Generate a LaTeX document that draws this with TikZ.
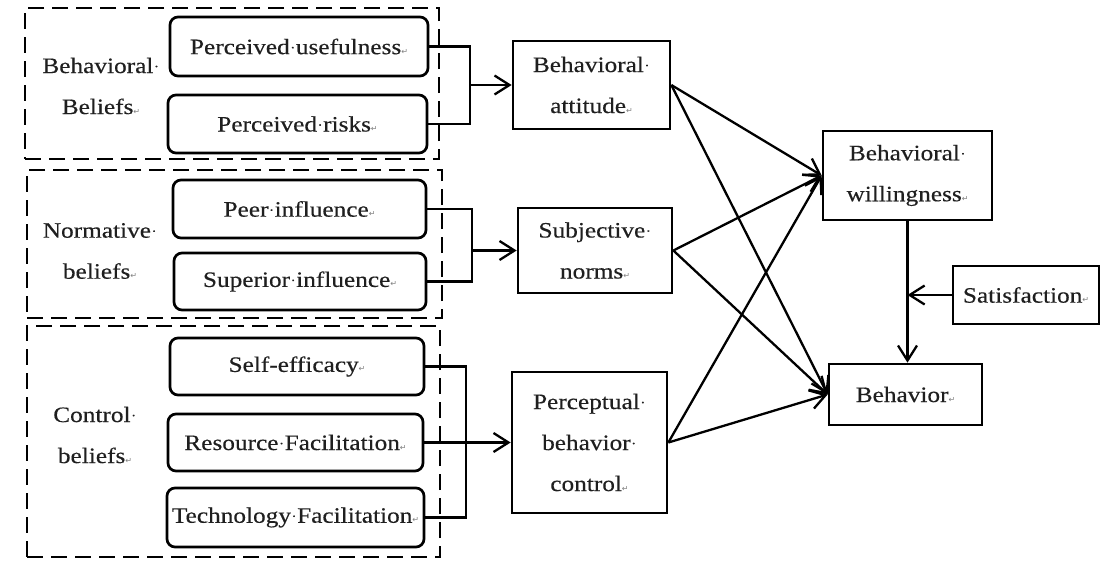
\documentclass[tikz,border=0pt]{standalone}
\usepackage{fontspec}
\setmainfont{Liberation Serif}[FakeStretch=1.15,FakeBold=0.35]
\newfontfamily\symf{DejaVu Sans}
\usetikzlibrary{arrows.meta}
\newcommand\wsp{\makebox[0.28em]{\raisebox{0.1em}{\fontsize{13}{13}\selectfont ·}}}
\newcommand\rmk{{\color{gray}\symf\fontsize{8}{8}\selectfont ↵}}
\begin{document}
\begin{tikzpicture}[x=1pt,y=-1pt,
  txt/.style={font=\fontsize{22}{41}\selectfont, align=center, text=black!88},
  rbox/.style={txt, draw, line width=2.7pt, rounded corners=8pt, inner sep=0pt},
  sbox/.style={txt, draw, line width=2.7pt, inner sep=0pt},
  grp/.style={draw, line width=2.7pt, dash pattern=on 16pt off 8pt, inner sep=0pt},
  lbl/.style={txt, inner sep=0pt},
  conn/.style={line width=2.3pt},
  arr/.style={line width=2.3pt, -{Straight Barb[length=15pt,width=19pt]}}]
\useasboundingbox (0,0) rectangle (1101,560);
% groups
\node[grp, minimum width=414pt, minimum height=151pt] (g1) at (232,83.5) {};
\node[grp, minimum width=415pt, minimum height=148pt] (g2) at (234.5,244) {};
\node[grp, minimum width=413pt, minimum height=231pt] (g3) at (233.5,441.5) {};
\node[lbl] (l1) at (101,86) {Behavioral\wsp\\Beliefs\rmk};
\node[lbl] (l2) at (100,251) {Normative\wsp\\beliefs\rmk};
\node[lbl] (l3) at (95,435) {Control\wsp\\beliefs\rmk};
% belief boxes
\node[rbox, minimum width=258pt, minimum height=59pt] (pu) at (299,46.5) {Perceived\wsp usefulness\rmk};
\node[rbox, minimum width=259pt, minimum height=58pt] (pr) at (297.5,124) {Perceived\wsp risks\rmk};
\node[rbox, minimum width=253pt, minimum height=58pt] (pi) at (299.5,209) {Peer\wsp influence\rmk};
\node[rbox, minimum width=252pt, minimum height=57pt] (si) at (300,281.5) {Superior\wsp influence\rmk};
\node[rbox, minimum width=254pt, minimum height=57pt] (se) at (297,366.5) {Self-efficacy\rmk};
\node[rbox, minimum width=255pt, minimum height=57pt] (rf) at (295.5,442.5) {Resource\wsp Facilitation\rmk};
\node[rbox, minimum width=257pt, minimum height=59pt] (tf) at (295.5,517.5) {Technology\wsp Facilitation\rmk};
% construct boxes
\node[sbox, minimum width=157pt, minimum height=88pt] (ba) at (591.5,85) {Behavioral\wsp\\attitude\rmk};
\node[sbox, minimum width=154pt, minimum height=85pt] (sn) at (595,250.5) {Subjective\wsp\\norms\rmk};
\node[sbox, minimum width=155pt, minimum height=141pt] (pbc) at (589.5,442.5) {Perceptual\wsp\\behavior\wsp\\control\rmk};
\node[sbox, minimum width=169pt, minimum height=89pt] (bw) at (907.5,175.5) {Behavioral\wsp\\willingness\rmk};
\node[sbox, minimum width=153pt, minimum height=61pt] (bh) at (905.5,394.5) {Behavior\rmk};
\node[sbox, minimum width=146pt, minimum height=58pt] (sat) at (1026,295) {Satisfaction\rmk};
% junctions
\coordinate (j1) at (470,85);
\coordinate (j2) at (472,250.5);
\coordinate (j3) at (466,442.5);
\draw[conn] (pu.east) -| (j1);
\draw[conn] (pr.east) -| (j1);
\draw[arr] (j1) -- (ba.west);
\draw[conn] (pi.east) -| (j2);
\draw[conn] (si.east) -| (j2);
\draw[arr] (j2) -- (sn.west);
\draw[conn] (se.east) -| (j3);
\draw[conn] (tf.east) -| (j3);
\draw[conn] (rf.east) -- (j3);
\draw[arr] (j3) -- (pbc.west);
% cross arrows
\draw[arr] (ba.east) -- (bw.west);
\draw[arr] (ba.east) -- (bh.west);
\draw[arr] (sn.east) -- (bw.west);
\draw[arr] (sn.east) -- (bh.west);
\draw[arr] (pbc.east) -- (bw.west);
\draw[arr] (pbc.east) -- (bh.west);
% right side
\draw[arr] (bw.south) -- (bw.south |- bh.north);
\draw[arr] (sat.west) -- (bw.south |- sat.west);
\end{tikzpicture}
\end{document}
